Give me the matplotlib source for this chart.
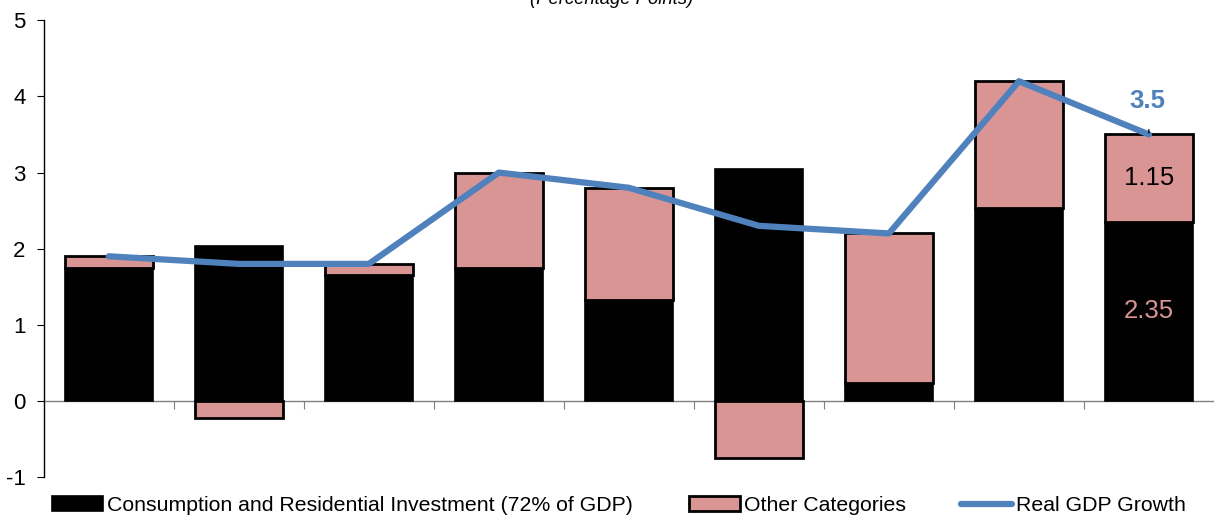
import matplotlib
matplotlib.use("Agg")
from matplotlib import pyplot as plt
import numpy as np

plt.rcParams['font.family'] = ['Liberation Sans', 'DejaVu Sans']
plt.rcParams['axes.unicode_minus'] = False

# contributions to real GDP growth (percentage points)
consumption = [1.75, 2.03, 1.65, 1.75, 1.33, 3.05, 0.23, 2.53, 2.35]
other = [0.15, -0.22, 0.15, 1.25, 1.47, -0.75, 1.97, 1.67, 1.15]
gdp = [1.9, 1.8, 1.8, 3.0, 2.8, 2.3, 2.2, 4.2, 3.5]

pink = '#D99594'
blue = '#4F81BD'

x = np.arange(len(gdp))
cons = np.array(consumption)
oth = np.array(other)
base = np.where(oth >= 0, cons, 0)

fig = plt.figure(figsize=(12.14, 5.16), dpi=100)
ax = fig.add_axes([0.036, 0.0756, 0.964, 0.885])

b1 = ax.bar(x, cons, width=0.68, color='black', edgecolor='black', linewidth=1.2,
            label='Consumption and Residential Investment (72% of GDP)', zorder=2)
b2 = ax.bar(x, oth, bottom=base, width=0.68, color=pink, edgecolor='black',
            linewidth=2, label='Other Categories', zorder=2)
l1, = ax.plot(x, gdp, color=blue, linewidth=4.5, solid_capstyle='round',
              label='Real GDP Growth', zorder=3)

# labels on last bar
ax.text(x[-1], cons[-1] + oth[-1] / 2, f'{oth[-1]:.2f}', ha='center', va='center',
        fontsize=18.5, color='black', zorder=4)
ax.text(x[-1], cons[-1] / 2, f'{cons[-1]:.2f}', ha='center', va='center',
        fontsize=18.5, color=pink, zorder=4)
ax.annotate(f'{gdp[-1]:.1f}', xy=(x[-1], gdp[-1]), xytext=(x[-1] - 0.01, gdp[-1] + 0.44),
            ha='center', va='center', fontsize=18.5, fontweight='bold', color=blue,
            arrowprops=dict(arrowstyle='-', color='black', lw=1, shrinkA=10, shrinkB=1),
            zorder=4)

ax.set_xlim(-0.5, len(gdp) - 0.5)
ax.set_ylim(-1, 5)
ax.set_yticks(range(-1, 6))
ax.tick_params(axis='y', labelsize=16, length=5, direction='out', pad=8)
ax.axhline(0, color='#808080', linewidth=1, zorder=1)
ax.set_xticks(x[:-1] + 0.5)
ax.set_xticklabels([])
ax.tick_params(axis='x', length=6, color='#808080', direction='out')
for s in ['top', 'right', 'bottom']:
    ax.spines[s].set_visible(False)
ax.spines['left'].set_linewidth(1)
ax.spines['bottom'].set_position(('data', 0))

fig.text(0.504, 1.0, '(Percentage Points)', fontsize=13.3, style='italic',
         ha='center', va='center')

fig.legend([b1, b2, l1], [b1.get_label(), b2.get_label(), l1.get_label()],
           loc='center', bbox_to_anchor=(0.51, 0.02), ncol=3, frameon=False,
           fontsize=15.3, handlelength=2.4, handleheight=0.7, handletextpad=0.2,
           columnspacing=2.6, borderpad=0)

fig.savefig('out.png', dpi=100)
